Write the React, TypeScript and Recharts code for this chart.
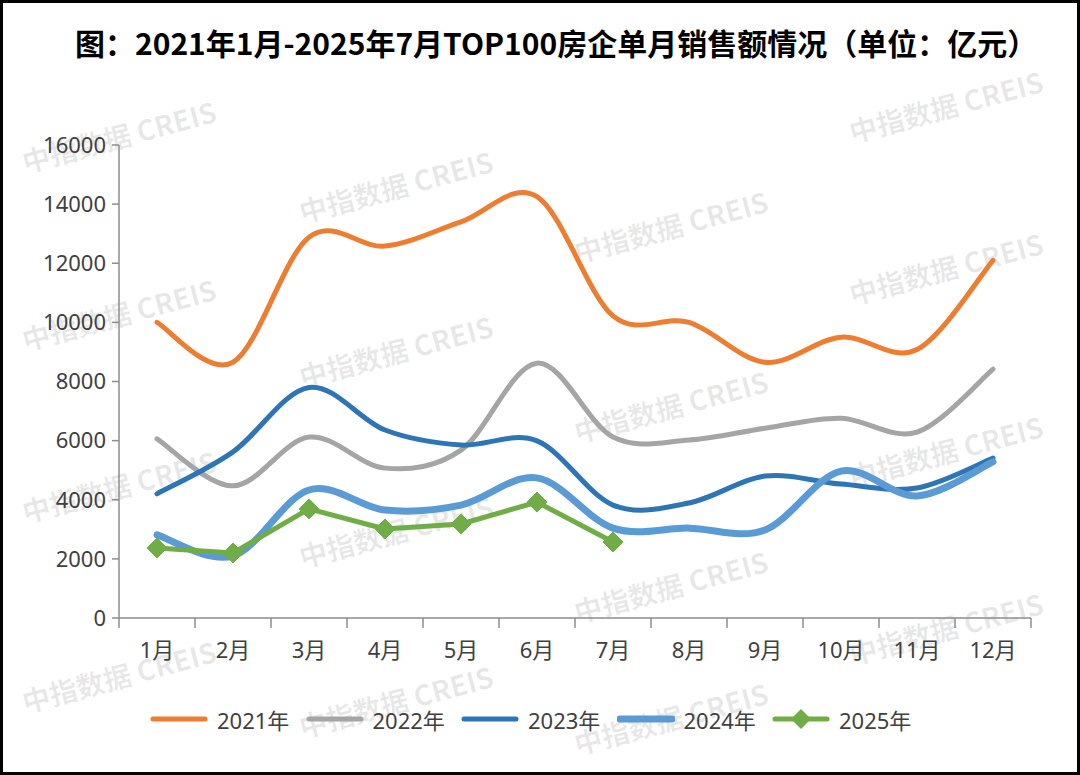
import React from 'react';
import { LineChart, Line, XAxis, YAxis } from 'recharts';

const months = ['1月', '2月', '3月', '4月', '5月', '6月', '7月', '8月', '9月', '10月', '11月', '12月'];
const yTicks = [0, 2000, 4000, 6000, 8000, 10000, 12000, 14000, 16000];

const sales2021 = [10000, 8650, 12880, 12580, 13400, 14250, 10220, 10000, 8650, 9500, 9080, 12100];
const sales2022 = [6060, 4470, 6120, 5070, 5680, 8620, 6120, 6020, 6420, 6760, 6290, 8420];
const sales2023 = [4200, 5620, 7800, 6360, 5850, 5990, 3820, 3890, 4800, 4530, 4400, 5410];
const sales2024 = [2810, 2100, 4330, 3650, 3820, 4740, 3040, 3040, 2980, 4970, 4130, 5280];
const sales2025 = [2370, 2200, 3690, 3010, 3180, 3920, 2570];

const seriesNames = ['2021年', '2022年', '2023年', '2024年', '2025年'];
const seriesKeys = ['y2021', 'y2022', 'y2023', 'y2024', 'y2025'];
const seriesColors = ['#ED7D31', '#A5A5A5', '#2E75B6', '#5B9BD5', '#70AD47'];
const seriesWidths = [5, 5, 5, 7, 5];

const title = '图：2021年1月-2025年7月TOP100房企单月销售额情况（单位：亿元）';
const watermark = '中指数据 CREIS';

const data = months.map((m, i) => ({
  month: m,
  y2021: sales2021[i],
  y2022: sales2022[i],
  y2023: sales2023[i],
  y2024: sales2024[i],
  y2025: sales2025[i],
}));

const W = 1080;
const H = 775;
const PLOT_LEFT = 119;
const PLOT_RIGHT = 1031;
const PLOT_TOP = 145;
const PLOT_BOTTOM = 618;
const BAND = (PLOT_RIGHT - PLOT_LEFT) / months.length;
const AXIS_COLOR = '#8C8C8C';
const TEXT_COLOR = '#404040';
const FONT = '"Noto Sans", "Noto Sans CJK SC", sans-serif';

// Excel-like smoothing (Catmull-Rom through points)
const excelSmooth: any = (context: any) => {
  let pts: number[][] = [];
  return {
    areaStart() {},
    areaEnd() {},
    lineStart() {
      pts = [];
    },
    point(x: number, y: number) {
      pts.push([+x, +y]);
    },
    lineEnd() {
      const n = pts.length;
      if (!n) return;
      context.moveTo(pts[0][0], pts[0][1]);
      if (n === 1) return;
      for (let i = 0; i < n - 1; i++) {
        const p0 = pts[i - 1] || pts[i];
        const p1 = pts[i];
        const p2 = pts[i + 1];
        const p3 = pts[i + 2] || pts[i + 1];
        context.bezierCurveTo(
          p1[0] + (p2[0] - p0[0]) / 6,
          p1[1] + (p2[1] - p0[1]) / 6,
          p2[0] - (p3[0] - p1[0]) / 6,
          p2[1] - (p3[1] - p1[1]) / 6,
          p2[0],
          p2[1]
        );
      }
    },
  };
};

const XTick = (props: any) => {
  const { x, y, payload, index } = props;
  const left = x - BAND / 2;
  return (
    <g>
      <line x1={left} x2={left} y1={y} y2={y + 10} stroke={AXIS_COLOR} strokeWidth={1.5} />
      {index === months.length - 1 && (
        <line x1={x + BAND / 2} x2={x + BAND / 2} y1={y} y2={y + 10} stroke={AXIS_COLOR} strokeWidth={1.5} />
      )}
      <text x={x} y={y + 40} textAnchor="middle" fontSize={22} fill={TEXT_COLOR} fontFamily={FONT}>
        {payload.value}
      </text>
    </g>
  );
};

const Diamond = (props: any) => {
  const { cx, cy, value } = props;
  if (value === undefined || value === null || cx == null || cy == null) return null;
  const r = 10;
  return (
    <polygon
      points={`${cx},${cy - r} ${cx + r},${cy} ${cx},${cy + r} ${cx - r},${cy}`}
      fill={seriesColors[4]}
      stroke={seriesColors[4]}
    />
  );
};

const wmCols = [120, 397, 672, 947];
const wmRows = [
  [140, 318, 490, 680],
  [190, 355, 535, 705],
  [230, 410, 590, 722],
  [110, 272, 455, 632],
];

export default function App() {
  return (
    <div
      style={{
        position: 'absolute',
        left: 0,
        top: 0,
        width: W,
        height: H,
        background: '#fff',
        boxSizing: 'border-box',
        border: '3px solid #000',
        overflow: 'hidden',
      }}
    >
      <svg width={W} height={H} style={{ position: 'absolute', left: -3, top: -3 }}>
        {wmCols.map((cx, ci) =>
          wmRows[ci].map((cy, ri) => (
            <text
              key={`${ci}-${ri}`}
              x={cx}
              y={cy}
              textAnchor="middle"
              dominantBaseline="middle"
              fontSize={28}
              fontWeight={700}
              fill="#000"
              fillOpacity={0.09}
              fontFamily='"Noto Sans CJK SC", sans-serif'
              transform={`rotate(-15 ${cx} ${cy})`}
            >
              {watermark}
            </text>
          ))
        )}
      </svg>
      <div
        style={{
          position: 'absolute',
          left: 72,
          top: 19,
          fontFamily: '"Noto Sans CJK SC", sans-serif',
          fontWeight: 700,
          fontSize: 30,
          color: '#000',
          whiteSpace: 'nowrap',
          lineHeight: '40px',
        }}
      >
        {title}
      </div>
      <div style={{ position: 'absolute', left: -3, top: -3 }}>
        <LineChart
          width={W}
          height={H}
          data={data}
          margin={{ top: PLOT_TOP, right: W - PLOT_RIGHT, bottom: H - PLOT_BOTTOM - 60, left: 0 }}
        >
          <XAxis
            dataKey="month"
            scale="band"
            height={60}
            tickLine={false}
            tickSize={0}
            tickMargin={0}
            interval={0}
            axisLine={{ stroke: AXIS_COLOR, strokeWidth: 1.5 }}
            tick={<XTick />}
          />
          <YAxis
            width={PLOT_LEFT}
            domain={[0, 16000]}
            ticks={yTicks}
            interval={0}
            tickSize={7}
            tickMargin={6}
            axisLine={{ stroke: AXIS_COLOR, strokeWidth: 1.5 }}
            tickLine={{ stroke: AXIS_COLOR, strokeWidth: 1.5 }}
            tick={{ fontSize: 22, fill: TEXT_COLOR, fontFamily: FONT }}
          />
          {seriesKeys.slice(0, 4).map((k, i) => (
            <Line
              key={k}
              dataKey={k}
              type={excelSmooth}
              stroke={seriesColors[i]}
              strokeWidth={seriesWidths[i]}
              strokeLinecap="round"
              strokeLinejoin="round"
              dot={false}
              activeDot={false}
              isAnimationActive={false}
            />
          ))}
          <Line
            dataKey="y2025"
            type="linear"
            stroke={seriesColors[4]}
            strokeWidth={seriesWidths[4]}
            strokeLinejoin="round"
            dot={<Diamond />}
            activeDot={false}
            connectNulls={false}
            isAnimationActive={false}
          />
        </LineChart>
      </div>
      {seriesNames.map((name, i) => (
        <div
          key={name}
          style={{
            position: 'absolute',
            left: 147 + i * 155.5,
            top: 700,
            height: 32,
            display: 'flex',
            alignItems: 'center',
            whiteSpace: 'nowrap',
          }}
        >
          <svg width={58} height={24} style={{ marginRight: 9 }}>
            <line
              x1={3}
              x2={55}
              y1={12}
              y2={12}
              stroke={seriesColors[i]}
              strokeWidth={seriesWidths[i]}
              strokeLinecap="round"
            />
            {i === 4 && <polygon points="29,2 39,12 29,22 19,12" fill={seriesColors[4]} />}
          </svg>
          <span style={{ fontFamily: FONT, fontSize: 22, color: TEXT_COLOR }}>{name}</span>
        </div>
      ))}
    </div>
  );
}
